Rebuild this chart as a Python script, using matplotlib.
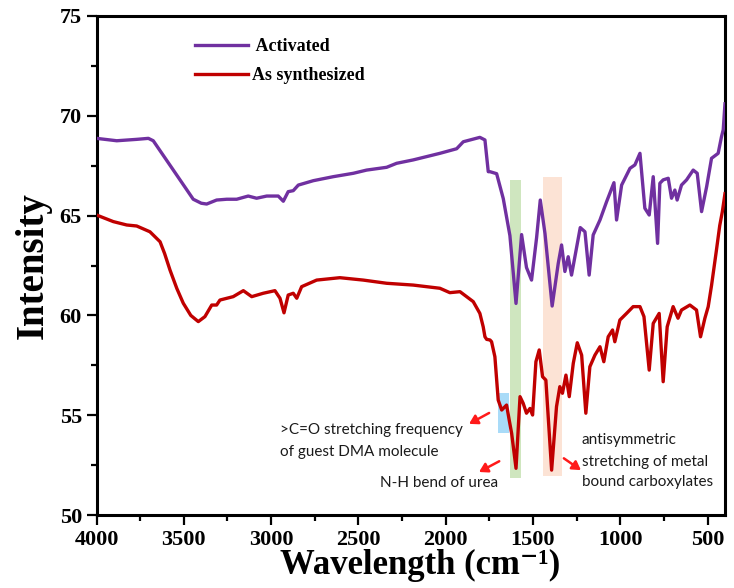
import numpy as np
import matplotlib
matplotlib.use("Agg")
from matplotlib import pyplot as plt
from matplotlib.ticker import MultipleLocator

# Activated sample (wavenumber, intensity)
act_x = [4000, 3884, 3770, 3703, 3675, 3560, 3446, 3400, 3369, 3312, 3254, 3197, 3131, 3083,
         3025, 2959, 2930, 2902, 2873, 2844, 2758, 2644, 2529, 2453, 2338, 2281, 2186,
         2033, 1937, 1899, 1804, 1775, 1756, 1746, 1708, 1670, 1632, 1597, 1565, 1537,
         1508, 1479, 1458, 1431, 1390, 1355, 1336, 1317, 1298, 1279, 1229, 1202, 1178,
         1155, 1116, 1078, 1036, 1021, 992, 944, 916, 887, 859, 834, 811, 786, 773,
         754, 725, 706, 687, 674, 649, 620, 582, 559, 534, 505, 477, 439, 420, 410, 400]
act_y = [68.87, 68.75, 68.82, 68.87, 68.75, 67.28, 65.82, 65.62, 65.58, 65.78, 65.82, 65.82, 65.98, 65.87,
         65.98, 65.98, 65.72, 66.2, 66.25, 66.53, 66.75, 66.95, 67.12, 67.28, 67.42, 67.62, 67.79,
         68.12, 68.35, 68.70, 68.92, 68.79, 67.2, 67.2, 67.1, 65.85, 64.0, 60.6, 64.05, 62.4,
         61.77, 63.9, 65.78, 64.1, 60.47, 62.61, 63.53, 62.2, 62.94, 62.02, 64.4, 64.19, 62.02,
         64.03, 64.78, 65.70, 66.65, 64.78, 66.53, 67.37, 67.54, 68.12, 65.37, 65.03, 66.95, 63.61, 66.62,
         66.79, 66.87, 65.87, 66.28, 65.78, 66.53, 66.79, 67.28, 67.12, 65.2, 66.45, 67.87, 68.12, 68.95, 69.3, 70.6]

# As synthesized sample
syn_x = [4000, 3904, 3827, 3770, 3694, 3636, 3610, 3579, 3540, 3503, 3460, 3417, 3379, 3340, 3312, 3293, 3217,
         3159, 3111, 3045, 2978, 2949, 2926, 2902, 2873, 2853, 2825, 2739, 2606, 2472, 2338,
         2186, 2033, 1976, 1918, 1842, 1804, 1785, 1775, 1765, 1746, 1737, 1718, 1699, 1679,
         1651, 1636, 1622, 1597, 1574, 1556, 1537, 1517, 1502, 1483, 1464, 1445, 1426, 1393,
         1365, 1346, 1331, 1311, 1292, 1269, 1246, 1221, 1197, 1174, 1145, 1116, 1094, 1069,
         1044, 1031, 1002, 964, 926, 887, 864, 834, 811, 777, 754, 731, 697, 669, 649, 601,
         563, 540, 515, 496, 477, 450, 430, 415, 400]
syn_y = [65.03, 64.7, 64.53, 64.48, 64.19, 63.69, 63.1, 62.27, 61.35, 60.61, 60.0, 59.69, 59.94, 60.52, 60.52, 60.77, 60.94,
         61.24, 60.94, 61.11, 61.24, 60.86, 60.13, 61.02, 61.11, 60.86, 61.44, 61.77, 61.89, 61.77, 61.61,
         61.52, 61.36, 61.14, 61.19, 60.69, 60.1, 59.43, 58.93, 58.8, 58.77, 58.68, 57.93, 55.76, 55.26,
         55.51, 54.76, 54.09, 52.34, 55.93, 55.6, 55.1, 55.34, 55.01, 57.68, 58.27, 56.93, 56.76, 52.25,
         55.43, 56.43, 56.1, 57.01, 55.93, 57.6, 58.63, 58.01, 55.1, 57.43, 58.01, 58.43, 57.68, 58.93,
         59.27, 58.68, 59.77, 60.1, 60.44, 60.44, 59.94, 57.26, 59.6, 60.1, 56.68, 59.43, 60.44, 59.86, 60.27, 60.52,
         60.27, 58.93, 59.86, 60.44, 61.5, 63.2, 64.5, 65.2, 66.1]

# highlighted bands: (x_left, x_right, y_bottom, y_top, colour)
bands = [(1632, 1569, 51.85, 66.8, "#cfe6bf"),
         (1441, 1336, 51.95, 66.95, "#fce3d5"),
         (1699, 1636, 54.1, 56.1, "#a9dbf8")]

serif = ["Liberation Serif", "DejaVu Serif"]
sans = "Lato"

fig = plt.figure(figsize=(7.34, 5.88), dpi=100)
ax = fig.add_axes([0.1315, 0.1241, 0.8562, 0.8487])

for x0, x1, y0, y1, c in bands:
    ax.fill_between([x0, x1], y0, y1, color=c, lw=0, zorder=1)

ax.plot(act_x, act_y, color="#7030a0", lw=2.4, label=" Activated", zorder=3)
ax.plot(syn_x, syn_y, color="#c00000", lw=2.4, label="As synthesized", zorder=3)

ax.set_xlim(4000, 400)
ax.set_ylim(50, 75)
ax.xaxis.set_major_locator(MultipleLocator(500))
ax.xaxis.set_minor_locator(MultipleLocator(250))
ax.yaxis.set_major_locator(MultipleLocator(5))
ax.yaxis.set_minor_locator(MultipleLocator(2.5))
ax.tick_params(which="major", direction="out", length=7, width=1.6)
ax.tick_params(which="minor", direction="out", length=4, width=1.6)
ax.tick_params(top=False, right=False)
for s in ax.spines.values():
    s.set_linewidth(2.2)
for lab in ax.get_xticklabels() + ax.get_yticklabels():
    lab.set_fontfamily(serif)
    lab.set_fontweight("bold")
    lab.set_fontsize(16)

ax.set_xlabel("Wavelength (cm\u207b\u00b9)", fontfamily=serif, fontweight="bold", fontsize=25)
ax.xaxis.set_label_coords(0.515, -0.068)
ax.set_ylabel("Intensity", fontfamily=serif, fontweight="bold", fontsize=28, labelpad=6)

leg = ax.legend(loc="upper left", bbox_to_anchor=(0.157, 0.955), frameon=False,
                handlelength=2.95, handletextpad=0.22, labelspacing=0.64,
                borderpad=0, borderaxespad=0,
                prop={"family": serif, "weight": "bold", "size": 13})

tkw = dict(fontfamily=sans, fontsize=11, color="#1a1a1a", va="center")
ax.text(2949, 54.26, ">C=O stretching frequency", **tkw)
ax.text(2949, 53.16, "of guest DMA molecule", **tkw)
ax.text(2376, 51.6, "N-H bend of urea", **tkw)
ax.text(1221, 53.76, "antisymmetric", **tkw)
ax.text(1221, 52.67, "stretching of metal", **tkw)
ax.text(1221, 51.67, "bound carboxylates", **tkw)

akw = dict(arrowstyle="-|>,head_length=0.5,head_width=0.3", color="#ff1a1a", lw=1.8)
ax.annotate("", xy=(1880, 54.5), xytext=(1737, 55.18), arrowprops=akw)
ax.annotate("", xy=(1823, 52.09), xytext=(1679, 52.76), arrowprops=akw)
ax.annotate("", xy=(1212, 52.17), xytext=(1336, 52.92), arrowprops=akw)

fig.savefig("out.png", dpi=100)
